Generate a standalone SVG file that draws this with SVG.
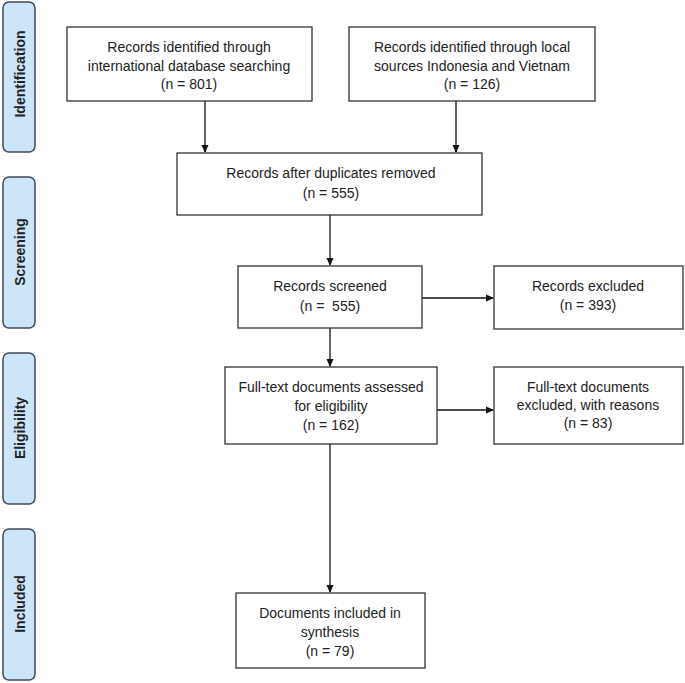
<svg xmlns="http://www.w3.org/2000/svg" width="685" height="683" viewBox="0 0 685 683">
<style>
.box{fill:#fff;stroke:#333;stroke-width:1.3}
.phase{fill:#cde5f8;stroke:#3c4a58;stroke-width:1.5}
.t{font-family:"Liberation Sans",Arial,sans-serif;font-size:14px;fill:#222;text-anchor:middle}
.pt{font-family:"Liberation Sans",Arial,sans-serif;font-size:14px;font-weight:bold;fill:#222;text-anchor:middle}
.c{stroke:#111;stroke-width:1.3;fill:none}
</style>
<defs>
<marker id="ah" markerWidth="8" markerHeight="8" refX="7" refY="4" orient="auto" markerUnits="userSpaceOnUse">
<path d="M0,0.5 L8,4 L0,7.5 Z" fill="#111"/>
</marker>
</defs>
<rect width="685" height="683" fill="#fff"/>
<g id="phase-identification"><rect class="phase" x="3" y="2" width="32" height="150" rx="6"/><text class="pt" transform="translate(25,74) rotate(-90)">Identification</text></g>
<g id="phase-screening"><rect class="phase" x="3" y="177" width="32" height="151" rx="6"/><text class="pt" transform="translate(25,252) rotate(-90)">Screening</text></g>
<g id="phase-eligibility"><rect class="phase" x="3" y="353" width="32" height="151" rx="6"/><text class="pt" transform="translate(25,428) rotate(-90)">Eligibility</text></g>
<g id="phase-included"><rect class="phase" x="3" y="529" width="32" height="151" rx="6"/><text class="pt" transform="translate(25,604) rotate(-90)">Included</text></g>

<g id="connectors">
<line class="c" x1="205" y1="101" x2="205" y2="152" marker-end="url(#ah)"/>
<line class="c" x1="456" y1="101" x2="456" y2="152" marker-end="url(#ah)"/>
<line class="c" x1="330" y1="215" x2="330" y2="265" marker-end="url(#ah)"/>
<line class="c" x1="422" y1="298" x2="493" y2="298" marker-end="url(#ah)"/>
<line class="c" x1="330" y1="328" x2="330" y2="366" marker-end="url(#ah)"/>
<line class="c" x1="437" y1="410" x2="493" y2="410" marker-end="url(#ah)"/>
<line class="c" x1="330" y1="444" x2="330" y2="592" marker-end="url(#ah)"/>
</g>

<g id="n-international"><rect class="box" x="67" y="27" width="245" height="74"/>
<text class="t" x="189" y="52">Records identified through</text>
<text class="t" x="189" y="71">international database searching</text>
<text class="t" x="189" y="89">(n = 801)</text></g>
<g id="n-local"><rect class="box" x="349" y="27" width="246" height="74"/>
<text class="t" x="472" y="52">Records identified through local</text>
<text class="t" x="472" y="71">sources Indonesia and Vietnam</text>
<text class="t" x="472" y="89">(n = 126)</text></g>
<g id="n-duplicates"><rect class="box" x="177" y="153" width="305" height="62"/>
<text class="t" x="331" y="178">Records after duplicates removed</text>
<text class="t" x="331" y="198">(n = 555)</text></g>
<g id="n-screened"><rect class="box" x="238" y="266" width="184" height="62"/>
<text class="t" x="330" y="291">Records screened</text>
<text class="t" x="330" y="311" xml:space="preserve">(n =  555)</text></g>
<g id="n-excluded"><rect class="box" x="494" y="266" width="189" height="63"/>
<text class="t" x="588" y="291">Records excluded</text>
<text class="t" x="588" y="310">(n = 393)</text></g>
<g id="n-fulltext"><rect class="box" x="225" y="367" width="212" height="77"/>
<text class="t" x="331" y="392">Full-text documents assessed</text>
<text class="t" x="331" y="411">for eligibility</text>
<text class="t" x="331" y="430">(n = 162)</text></g>
<g id="n-fulltext-excluded"><rect class="box" x="494" y="367" width="189" height="77"/>
<text class="t" x="588" y="392">Full-text documents</text>
<text class="t" x="588" y="410">excluded, with reasons</text>
<text class="t" x="588" y="428">(n = 83)</text></g>
<g id="n-included"><rect class="box" x="236" y="593" width="189" height="75"/>
<text class="t" x="330" y="618">Documents included in</text>
<text class="t" x="330" y="637">synthesis</text>
<text class="t" x="330" y="656">(n = 79)</text></g>
</svg>
